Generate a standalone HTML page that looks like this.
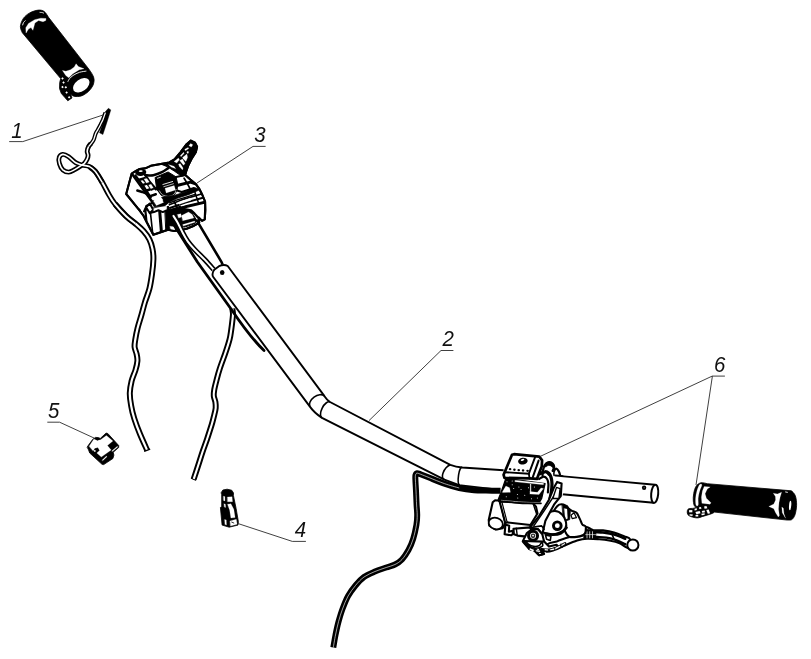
<!DOCTYPE html>
<html lang="en"><head><meta charset="utf-8"><title>Handlebar assembly</title>
<style>
html,body{margin:0;padding:0;background:#fff;}
body{width:811px;height:659px;overflow:hidden;}
svg{display:block;}
.lb{font-family:"Liberation Sans",sans-serif;font-style:italic;font-size:22.7px;fill:#111;}
#labels{filter:grayscale(1);}
</style></head><body>
<svg width="811" height="659" viewBox="0 0 811 659">
<rect width="811" height="659" fill="#fff"/>
<g id="switch">
<path d="M131.7,173.5 L136.0,170.8 L139.7,168.9 L145.3,168.3 L150.8,165.8 L160.7,164.0 L169.3,162.4 L174.9,159.0 L180.4,152.3 L186.6,144.2 L190.9,140.6 L195.0,142.6 L197.1,146.7 L195.8,152.3 L191.5,159.0 L188.4,165.2 L186.0,172.0 L185.3,175.1 L190.3,179.4 L195.5,183.7 L199.5,189.2 L202.0,194.2 L205.1,201.6 L205.3,209.0 L205.3,210.7 L204.8,219.3 L202.0,220.8 L198.9,217.5 L199.2,222.8 L194.0,225.7 L186.6,228.7 L181.7,229.9 L174.2,231.0 L168.1,229.8 L153.3,234.7 L146.5,221.8 L143.4,215.6 L139.7,210.7 L126.2,194.0Z" stroke="#000" stroke-width="2.0" fill="#fff" stroke-linejoin="round"/>
<clipPath id="swclip"><path d="M131.7,173.5 L136.0,170.8 L139.7,168.9 L145.3,168.3 L150.8,165.8 L160.7,164.0 L169.3,162.4 L174.9,159.0 L180.4,152.3 L186.6,144.2 L190.9,140.6 L195.0,142.6 L197.1,146.7 L195.8,152.3 L191.5,159.0 L188.4,165.2 L186.0,172.0 L185.3,175.1 L190.3,179.4 L195.5,183.7 L199.5,189.2 L202.0,194.2 L205.1,201.6 L205.3,209.0 L205.3,210.7 L204.8,219.3 L202.0,220.8 L198.9,217.5 L199.2,222.8 L194.0,225.7 L186.6,228.7 L181.7,229.9 L174.2,231.0 L168.1,229.8 L153.3,234.7 L146.5,221.8 L143.4,215.6 L139.7,210.7 L126.2,194.0Z"/></clipPath>
<g clip-path="url(#swclip)">
<path d="M160.7,164.0 L169.3,162.4 L174.9,159.0 L180.4,152.3 L186.6,144.2 L190.9,140.6 L195.0,142.6 L197.1,146.7 L195.8,152.3 L191.5,159.0 L188.4,165.2 L186.0,172.0 L185.3,175.1 L181.7,176.3 L174.2,171.0 L167.5,166.8Z" stroke="#000" stroke-width="1" fill="#000" stroke-linejoin="round"/>
<path d="M190.6,143.4 L192.8,144.8 L191.4,147.1 L188.9,145.7Z" stroke="#fff" stroke-width="0.2" fill="#fff" />
<path d="M184.7,149.3 L188.1,147.5 L188.8,148.5 L185.4,150.8Z" stroke="#fff" stroke-width="0.2" fill="#fff" />
<path d="M180.2,155.8 L183.6,152.3 L184.2,153.3 L181.1,156.8Z" stroke="#fff" stroke-width="0.2" fill="#fff" />
<path d="M187.2,151.3 L188.8,151.8 L188.1,153.6 L186.8,153.0Z" stroke="#fff" stroke-width="0.2" fill="#fff" />
<path d="M182.5,157.5 L186.9,154.1 L187.6,157.5 L185.9,161.4 L183.1,158.7Z" stroke="#fff" stroke-width="0.2" fill="#fff" />
<path d="M179.7,160.4 L182.5,159.1 L185.0,163.6 L183.6,165.3 L180.8,162.1Z" stroke="#fff" stroke-width="0.2" fill="#fff" />
<path d="M178.5,164.3 L180.2,163.6 L183.1,168.1 L182.5,169.9 L179.4,166.6Z" stroke="#fff" stroke-width="0.2" fill="#fff" />
<path d="M174.0,161.4 L178.5,158.0 L179.4,159.7 L176.8,163.1Z" stroke="#fff" stroke-width="0.2" fill="#fff" />
<path d="M168.4,164.6 L174.0,166.3 L175.8,168.8 L171.2,167.1Z" stroke="#fff" stroke-width="0.2" fill="#fff" />
<ellipse cx="140.72" cy="172.36" rx="5.6" ry="3.6" fill="#000" transform="rotate(-5 140.72 172.36)"/>
<ellipse cx="140.72" cy="171.13" rx="2.0" ry="0.8" fill="#fff" transform="rotate(-5 140.72 171.13)"/>
<path d="M145.3,175.1 C146.6,175.1 150.5,175.7 153.3,175.2 C156.1,174.7 159.4,173.4 161.9,172.2 C164.4,171.0 167.3,168.7 168.3,168.1" stroke="#000" stroke-width="2.5" fill="none" stroke-linecap="round" stroke-linejoin="round"/>
<path d="M131.7,173.5 L152.7,202.6" stroke="#000" stroke-width="2.5" fill="none" stroke-linecap="round" stroke-linejoin="round"/>
<path d="M135.4,175.4 L144.7,188.0 L150.8,197.3" stroke="#000" stroke-width="2.12" fill="none" stroke-linecap="round" stroke-linejoin="round"/>
<path d="M145.3,175.1 L149.6,181.9 L155.8,189.2" stroke="#000" stroke-width="2.6" fill="none" stroke-linecap="round" stroke-linejoin="round"/>
<path d="M138.5,180.0 L144.7,178.2" stroke="#000" stroke-width="2.5" fill="none" stroke-linecap="round" stroke-linejoin="round"/>
<path d="M141.9,185.3 L147.4,183.3" stroke="#000" stroke-width="2.5" fill="none" stroke-linecap="round" stroke-linejoin="round"/>
<path d="M146.1,190.7 L151.8,188.8" stroke="#000" stroke-width="2.5" fill="none" stroke-linecap="round" stroke-linejoin="round"/>
<path d="M149.6,196.4 L155.8,194.2" stroke="#000" stroke-width="2.5" fill="none" stroke-linecap="round" stroke-linejoin="round"/>
<path d="M142.2,179.4 L146.5,178.2 L150.8,184.3 L154.5,189.2 L151.4,190.5 L146.5,184.3Z" stroke="#000" stroke-width="0.5" fill="#000" stroke-linejoin="round"/>
<path d="M144.0,178.9 L146.9,178.4 L149.3,182.1 L146.4,183.1Z" stroke="#fff" stroke-width="0.2" fill="#fff" stroke-linejoin="round"/>
<path d="M148.6,184.9 L151.1,184.3 L153.3,187.8 L150.8,188.8Z" stroke="#fff" stroke-width="0.2" fill="#fff" stroke-linejoin="round"/>
<path d="M137.3,190.5 L142.2,192.0 L146.5,193.7" stroke="#000" stroke-width="2.4" fill="none" stroke-linecap="round" stroke-linejoin="round"/>
<path d="M138.5,209.0 L140.0,210.5" stroke="#000" stroke-width="2.0" fill="none" stroke-linecap="round" stroke-linejoin="round"/>
<path d="M155.1,177.5 L168.1,172.0 L176.1,176.9 L177.7,184.3 L177.0,190.5 L174.2,195.2 L168.1,197.4 L161.3,195.4 L156.7,189.2Z" stroke="#000" stroke-width="1" fill="#000" stroke-linejoin="round"/>
<path d="M165.0,188.3 L174.2,185.6 L175.5,190.0 L166.2,192.9Z" stroke="#fff" stroke-width="0.2" fill="#fff" stroke-linejoin="round"/>
<path d="M162.5,184.6 L173.0,181.4" stroke="#fff" stroke-width="0.9" fill="none" stroke-linecap="butt" stroke-linejoin="round"/>
<path d="M163.4,186.8 L173.8,183.6" stroke="#fff" stroke-width="0.7" fill="none" stroke-linecap="butt" stroke-linejoin="round"/>
<path d="M157.0,178.4 L160.7,177.2" stroke="#fff" stroke-width="0.8" fill="none" stroke-linecap="butt" stroke-linejoin="round"/>
<path d="M159.2,190.5 C159.8,191.2 161.0,193.8 162.5,194.8 C164.1,195.8 166.8,196.5 168.7,196.4 C170.7,196.3 173.0,195.4 174.2,194.2 C175.5,193.0 176.1,190.1 176.5,189.2" stroke="#fff" stroke-width="0.7" fill="none" stroke-linecap="butt" stroke-linejoin="round"/>
<path d="M176.1,176.9 L185.3,175.1" stroke="#000" stroke-width="2.0" fill="none" stroke-linecap="round" stroke-linejoin="round"/>
<path d="M177.9,185.3 L190.5,182.1 L195.5,183.7" stroke="#000" stroke-width="3.0" fill="none" stroke-linecap="round" stroke-linejoin="round"/>
<path d="M177.0,190.5 L181.7,192.0 L194.0,188.0" stroke="#000" stroke-width="2.0" fill="none" stroke-linecap="round" stroke-linejoin="round"/>
<path d="M184.1,178.2 L187.6,184.1 L190.3,189.2" stroke="#000" stroke-width="1.75" fill="none" stroke-linecap="round" stroke-linejoin="round"/>
<path d="M151.4,201.6 L161.9,197.3 L174.2,195.4 L184.1,192.3 L195.2,187.8 L200.2,189.5 L189.1,194.4 L177.9,198.1 L169.3,202.2 L163.2,207.1 L153.9,206.5Z" stroke="#000" stroke-width="0.8" fill="#000" stroke-linejoin="round"/>
<path d="M153.5,199.6 L160.7,196.7 L163.2,200.3 L156.0,203.6Z" stroke="#fff" stroke-width="0.2" fill="#fff" stroke-linejoin="round"/>
<path d="M169.3,204.8 L184.1,199.1 L203.8,193.2" stroke="#000" stroke-width="1.62" fill="none" stroke-linecap="round" stroke-linejoin="round"/>
<path d="M169.9,208.0 L185.3,202.6 L204.8,197.3" stroke="#000" stroke-width="2.0" fill="none" stroke-linecap="round" stroke-linejoin="round"/>
<path d="M170.6,211.2 L186.6,205.9 L205.1,201.6" stroke="#000" stroke-width="2.0" fill="none" stroke-linecap="round" stroke-linejoin="round"/>
<path d="M194.0,189.2 L196.4,196.7 L198.9,204.1" stroke="#000" stroke-width="1.5" fill="none" stroke-linecap="round" stroke-linejoin="round"/>
<path d="M174.2,201.6 L177.9,209.0 L179.2,213.9" stroke="#000" stroke-width="1.75" fill="none" stroke-linecap="round" stroke-linejoin="round"/>
<path d="M152.7,202.6 L146.5,205.9 L144.0,211.4" stroke="#000" stroke-width="2.0" fill="none" stroke-linecap="round" stroke-linejoin="round"/>
<path d="M146.5,205.9 L150.8,209.0 L168.1,207.1" stroke="#000" stroke-width="2.0" fill="none" stroke-linecap="round" stroke-linejoin="round"/>
<path d="M145.3,209.7 L150.8,209.2 L168.1,207.0 L169.3,229.2 L168.1,229.8 L153.3,234.7 L146.5,221.8Z" stroke="#000" stroke-width="2.2" fill="#fff" stroke-linejoin="round"/>
<path d="M159.7,211.3 L161.4,231.7" stroke="#000" stroke-width="3.0" fill="none" stroke-linecap="round" stroke-linejoin="round"/>
<path d="M167.1,209.5 L169.1,229.2" stroke="#000" stroke-width="4.0" fill="none" stroke-linecap="round" stroke-linejoin="round"/>
<path d="M150.2,210.7 L152.7,233.5" stroke="#000" stroke-width="1.62" fill="none" stroke-linecap="round" stroke-linejoin="round"/>
<path d="M165.2,210.2 L179.9,207.6 L190.3,210.2 L196.3,219.7 L195.0,223.6 L184.7,227.1 L178.2,226.6 L177.3,231.8 L170.4,232.7 L166.1,230.9Z" stroke="#000" stroke-width="1" fill="#000" stroke-linejoin="round" stroke-linecap="round"/>
<path d="M181.6,215.6 L188.5,211.9 L192.2,214.5 L193.9,218.0 L182.7,220.7Z" stroke="#fff" stroke-width="0.2" fill="#fff" stroke-linejoin="round" stroke-linecap="round"/>
<path d="M182.7,224.6 L194.6,221.1 L195.0,222.3 L183.3,226.1Z" stroke="#fff" stroke-width="0.2" fill="#fff" stroke-linejoin="round" stroke-linecap="round"/>
<path d="M177.3,214.5 L180.8,213.7 L181.6,217.1 L178.6,218.0Z" stroke="#fff" stroke-width="0.2" fill="#fff" stroke-linejoin="round" stroke-linecap="round"/>
<path d="M180.3,208.0 L188.5,206.3 L205.4,202.4 L205.4,205.0 L204.8,219.7 L201.5,221.1 L194.6,213.7 L191.1,210.4 L185.9,209.5Z" stroke="#000" stroke-width="2.3" fill="#fff" stroke-linejoin="round" stroke-linecap="round"/>
<path d="M146.1,207.2 L149.8,203.5 L153.2,209.8 L149.8,213.2Z" stroke="#000" stroke-width="2.0" fill="#fff" stroke-linejoin="round" stroke-linecap="round"/>
<path d="M153.6,208.6 L158.7,207.3 L166.8,206.1 L166.7,209.8 L162.8,211.7 L158.4,209.9 L153.9,211.7Z" stroke="#fff" stroke-width="0.2" fill="#fff" stroke-linejoin="round" stroke-linecap="round"/>
<path d="M153.5,200.9 L160.5,197.2 L163.6,202.4 L156.4,205.5Z" stroke="#fff" stroke-width="0.2" fill="#fff" stroke-linejoin="round" stroke-linecap="round"/>
<path d="M150.7,212.8 L153.9,212.1 L158.4,210.3 L162.8,212.1 L167.0,210.2" stroke="#000" stroke-width="2.0" fill="none" stroke-linejoin="round"/>
<path d="M169.9,226.2 L174.8,226.8 L174.9,230.5 L171.0,231.4Z" stroke="#fff" stroke-width="0.2" fill="#fff" stroke-linejoin="round" stroke-linecap="round"/>
<path d="M177.9,202.4 L190.5,198.0 L191.2,200.2 L179.4,204.3Z" stroke="#fff" stroke-width="0.2" fill="#fff" stroke-linejoin="round" stroke-linecap="round"/>
<path d="M169.0,203.1 L176.4,200.2 L195.0,194.3" stroke="#000" stroke-width="1.4" fill="none" />
<path d="M169.8,210.5 L176.4,207.6 L180.9,206.1" stroke="#000" stroke-width="1.2" fill="none" />
<path d="M169.4,212.8 L176.4,209.8 L180.9,208.3" stroke="#000" stroke-width="1.2" fill="none" />
</g>
<path d="M131.7,173.5 L136.0,170.8 L139.7,168.9 L145.3,168.3 L150.8,165.8 L160.7,164.0 L169.3,162.4 L174.9,159.0 L180.4,152.3 L186.6,144.2 L190.9,140.6 L195.0,142.6 L197.1,146.7 L195.8,152.3 L191.5,159.0 L188.4,165.2 L186.0,172.0 L185.3,175.1 L190.3,179.4 L195.5,183.7 L199.5,189.2 L202.0,194.2 L205.1,201.6 L205.3,209.0 L205.3,210.7 L204.8,219.3 L202.0,220.8 L198.9,217.5 L199.2,222.8 L194.0,225.7 L186.6,228.7 L181.7,229.9 L174.2,231.0 L168.1,229.8 L153.3,234.7 L146.5,221.8 L143.4,215.6 L139.7,210.7 L126.2,194.0Z" stroke="#000" stroke-width="2.0" fill="none" stroke-linejoin="round"/>
</g>
<g id="cables">
<path d="M108.4,108.3 L110.8,109.9 L106.8,122.7 L102.9,134.5 L99.5,132.8 L102.3,124.7 L103.9,117.8 L103.5,113.8Z" stroke="#000" stroke-width="0.4" fill="#000" stroke-linejoin="round"/>
<path d="M115.1,204.1 C116.9,206.1 122.8,212.9 126.2,216.2 C129.6,219.5 132.7,221.2 135.6,223.7 C138.5,226.2 141.2,228.4 143.5,231.0 C145.8,233.6 147.9,236.4 149.4,239.4 C150.9,242.4 151.8,245.7 152.5,249.0 C153.2,252.3 153.5,255.0 153.4,259.2 C153.3,263.4 152.7,269.1 152.0,274.0 C151.3,278.9 150.6,284.1 149.4,288.8 C148.2,293.5 146.3,297.7 145.0,302.0 C143.7,306.3 142.8,310.1 141.6,314.4 C140.4,318.7 138.7,323.7 137.6,328.0 C136.5,332.3 135.7,336.8 135.2,340.0 C134.7,343.2 134.4,344.7 134.6,347.0 C134.8,349.3 136.1,351.7 136.6,354.0 C137.1,356.3 137.6,358.3 137.4,361.0 C137.2,363.7 136.5,366.7 135.5,370.0 C134.5,373.3 132.5,377.2 131.6,381.0 C130.7,384.8 129.9,388.8 129.8,393.0 C129.7,397.2 130.4,401.7 131.2,406.0 C131.9,410.3 132.8,413.9 134.3,418.6 C135.8,423.3 137.8,428.7 140.0,434.0 C142.2,439.3 146.0,447.6 147.2,450.3" stroke="#000" stroke-width="6.0" fill="none" stroke-linecap="butt" stroke-linejoin="round"/><path d="M115.1,204.1 C116.9,206.1 122.8,212.9 126.2,216.2 C129.6,219.5 132.7,221.2 135.6,223.7 C138.5,226.2 141.2,228.4 143.5,231.0 C145.8,233.6 147.9,236.4 149.4,239.4 C150.9,242.4 151.8,245.7 152.5,249.0 C153.2,252.3 153.5,255.0 153.4,259.2 C153.3,263.4 152.7,269.1 152.0,274.0 C151.3,278.9 150.6,284.1 149.4,288.8 C148.2,293.5 146.3,297.7 145.0,302.0 C143.7,306.3 142.8,310.1 141.6,314.4 C140.4,318.7 138.7,323.7 137.6,328.0 C136.5,332.3 135.7,336.8 135.2,340.0 C134.7,343.2 134.4,344.7 134.6,347.0 C134.8,349.3 136.1,351.7 136.6,354.0 C137.1,356.3 137.6,358.3 137.4,361.0 C137.2,363.7 136.5,366.7 135.5,370.0 C134.5,373.3 132.5,377.2 131.6,381.0 C130.7,384.8 129.9,388.8 129.8,393.0 C129.7,397.2 130.4,401.7 131.2,406.0 C131.9,410.3 132.8,413.9 134.3,418.6 C135.8,423.3 137.8,428.7 140.0,434.0 C142.2,439.3 146.0,447.6 147.2,450.3" stroke="#fff" stroke-width="2.2" fill="none" stroke-linecap="butt" stroke-linejoin="round"/>
<path d="M89.5,166.6 C90.4,167.5 93.2,168.9 95.4,171.6 C97.5,174.2 100.0,178.5 102.3,182.4 C104.6,186.4 107.1,191.6 109.2,195.2 C111.3,198.9 112.3,200.6 115.1,204.1 C117.9,207.6 122.8,212.9 126.2,216.2 C129.6,219.5 134.0,222.4 135.6,223.7" stroke="#000" stroke-width="5.5" fill="none" stroke-linecap="butt" stroke-linejoin="round"/><path d="M89.5,166.6 C90.4,167.5 93.2,168.9 95.4,171.6 C97.5,174.2 100.0,178.5 102.3,182.4 C104.6,186.4 107.1,191.6 109.2,195.2 C111.3,198.9 112.3,200.6 115.1,204.1 C117.9,207.6 122.8,212.9 126.2,216.2 C129.6,219.5 134.0,222.4 135.6,223.7" stroke="#fff" stroke-width="2.0" fill="none" stroke-linecap="butt" stroke-linejoin="round"/>
<path d="M91.0,143.4 C90.6,143.9 89.3,145.0 88.7,146.4 C88.0,147.7 87.3,149.8 87.2,151.3 C87.1,152.8 88.1,153.9 88.1,155.2 C88.1,156.6 87.7,157.9 87.1,159.2 C86.5,160.5 85.5,162.0 84.7,162.9 C84.0,163.8 84.2,163.5 82.5,164.7 C80.9,165.8 77.0,168.4 74.7,169.6 C72.4,170.8 70.7,172.0 68.7,172.1 C66.8,172.1 64.4,171.2 62.8,169.8 C61.3,168.4 60.1,165.7 59.5,163.7 C58.8,161.7 58.5,159.3 59.1,157.8 C59.6,156.2 61.2,154.6 62.8,154.4 C64.4,154.2 66.6,155.4 68.7,156.8 C70.9,158.2 73.3,161.3 75.7,162.7 C78.0,164.1 80.2,164.5 82.5,165.2 C84.9,165.8 87.3,165.6 89.5,166.6 C91.6,167.7 93.2,168.9 95.4,171.6 C97.5,174.2 101.1,180.6 102.3,182.4" stroke="#000" stroke-width="4.9" fill="none" stroke-linecap="butt" stroke-linejoin="round"/><path d="M91.0,143.4 C90.6,143.9 89.3,145.0 88.7,146.4 C88.0,147.7 87.3,149.8 87.2,151.3 C87.1,152.8 88.1,153.9 88.1,155.2 C88.1,156.6 87.7,157.9 87.1,159.2 C86.5,160.5 85.5,162.0 84.7,162.9 C84.0,163.8 84.2,163.5 82.5,164.7 C80.9,165.8 77.0,168.4 74.7,169.6 C72.4,170.8 70.7,172.0 68.7,172.1 C66.8,172.1 64.4,171.2 62.8,169.8 C61.3,168.4 60.1,165.7 59.5,163.7 C58.8,161.7 58.5,159.3 59.1,157.8 C59.6,156.2 61.2,154.6 62.8,154.4 C64.4,154.2 66.6,155.4 68.7,156.8 C70.9,158.2 73.3,161.3 75.7,162.7 C78.0,164.1 80.2,164.5 82.5,165.2 C84.9,165.8 87.3,165.6 89.5,166.6 C91.6,167.7 93.2,168.9 95.4,171.6 C97.5,174.2 101.1,180.6 102.3,182.4" stroke="#fff" stroke-width="1.6" fill="none" stroke-linecap="butt" stroke-linejoin="round"/>
<path d="M105.4,112.6 C105.0,113.8 103.7,117.7 102.9,119.7 C102.0,121.7 101.3,123.0 100.5,124.7 C99.7,126.3 98.7,128.1 97.9,129.6 C97.1,131.1 96.4,131.9 95.7,133.5 C95.0,135.2 94.5,137.8 93.8,139.5 C93.1,141.1 92.1,142.2 91.2,143.4 C90.4,144.6 89.1,145.9 88.7,146.4" stroke="#000" stroke-width="4.0" fill="none" stroke-linecap="butt" stroke-linejoin="round"/><path d="M105.4,112.6 C105.0,113.8 103.7,117.7 102.9,119.7 C102.0,121.7 101.3,123.0 100.5,124.7 C99.7,126.3 98.7,128.1 97.9,129.6 C97.1,131.1 96.4,131.9 95.7,133.5 C95.0,135.2 94.5,137.8 93.8,139.5 C93.1,141.1 92.1,142.2 91.2,143.4 C90.4,144.6 89.1,145.9 88.7,146.4" stroke="#fff" stroke-width="1.3" fill="none" stroke-linecap="butt" stroke-linejoin="round"/>
<path d="M144.2,451.4 L150.2,449.2" stroke="#000" stroke-width="1.4" fill="none" />
<path d="M232.3,308.5 C232.4,309.4 233.0,312.1 233.0,314.0 C233.0,315.9 232.8,316.9 232.5,319.6 C232.2,322.3 231.7,326.7 231.2,330.0 C230.7,333.3 230.6,335.3 229.6,339.3 C228.6,343.3 226.7,349.1 225.0,354.0 C223.3,358.9 221.1,364.4 219.7,368.9 C218.2,373.4 217.2,377.5 216.3,381.0 C215.4,384.5 214.6,387.5 214.2,390.0 C213.8,392.5 213.6,394.0 213.8,396.0 C214.0,398.0 215.1,400.0 215.4,402.0 C215.7,404.0 215.9,405.7 215.7,408.0 C215.5,410.3 214.7,413.2 214.0,416.0 C213.3,418.8 212.8,421.2 211.6,425.0 C210.4,428.8 208.6,434.5 207.1,439.0 C205.6,443.5 204.0,447.5 202.5,452.0 C201.0,456.5 199.5,461.4 198.0,466.0 C196.5,470.6 194.3,477.2 193.6,479.4" stroke="#000" stroke-width="6.0" fill="none" stroke-linecap="butt" stroke-linejoin="round"/><path d="M232.3,308.5 C232.4,309.4 233.0,312.1 233.0,314.0 C233.0,315.9 232.8,316.9 232.5,319.6 C232.2,322.3 231.7,326.7 231.2,330.0 C230.7,333.3 230.6,335.3 229.6,339.3 C228.6,343.3 226.7,349.1 225.0,354.0 C223.3,358.9 221.1,364.4 219.7,368.9 C218.2,373.4 217.2,377.5 216.3,381.0 C215.4,384.5 214.6,387.5 214.2,390.0 C213.8,392.5 213.6,394.0 213.8,396.0 C214.0,398.0 215.1,400.0 215.4,402.0 C215.7,404.0 215.9,405.7 215.7,408.0 C215.5,410.3 214.7,413.2 214.0,416.0 C213.3,418.8 212.8,421.2 211.6,425.0 C210.4,428.8 208.6,434.5 207.1,439.0 C205.6,443.5 204.0,447.5 202.5,452.0 C201.0,456.5 199.5,461.4 198.0,466.0 C196.5,470.6 194.3,477.2 193.6,479.4" stroke="#fff" stroke-width="2.1" fill="none" stroke-linecap="butt" stroke-linejoin="round"/>
<path d="M191.2,478.4 L196.0,480.4" stroke="#000" stroke-width="1" fill="none" />
<path d="M173.0,215.2 C173.8,216.5 176.1,219.8 177.7,222.7 C179.3,225.6 181.0,229.6 182.7,232.7 C184.3,235.8 185.7,238.5 187.7,241.3 C189.7,244.1 191.7,246.4 194.6,249.5 C197.5,252.6 201.8,256.6 205.0,259.9 C208.1,263.2 212.1,267.9 213.5,269.5" stroke="#000" stroke-width="5.2" fill="none" stroke-linecap="butt" stroke-linejoin="round"/><path d="M173.0,215.2 C173.8,216.5 176.1,219.8 177.7,222.7 C179.3,225.6 181.0,229.6 182.7,232.7 C184.3,235.8 185.7,238.5 187.7,241.3 C189.7,244.1 191.7,246.4 194.6,249.5 C197.5,252.6 201.8,256.6 205.0,259.9 C208.1,263.2 212.1,267.9 213.5,269.5" stroke="#fff" stroke-width="2.0" fill="none" stroke-linecap="butt" stroke-linejoin="round"/>
</g>
<g id="bar">
<path d="M212.9,276.5 L309.9,406.6 Q314,412.5 322,417.9 L444.4,479.6 L459.2,485.1 L500,490 M503.6,470.2 L462.1,467.5 Q456,466.8 450.3,464.8 L330,402 Q327,400 324.3,395.9 L227.7,266 Q224,263.8 219,266.2 L214.6,269.4 Q211.6,272.6 212.9,276.5" stroke="#000" stroke-width="1.9" fill="none" stroke-linejoin="round"/>
<path d="M324.3,395.9 A9 5.6 -36.6 0 0 309.9,406.6" stroke="#000" stroke-width="1.6" fill="none" />
<path d="M330,402 A8.9 4.3 -63.3 0 0 322,417.9" stroke="#000" stroke-width="1.6" fill="none" />
<path d="M450.3,464.8 A9 4.8 -53 0 0 444.4,479.6" stroke="#000" stroke-width="1.6" fill="none" />
<path d="M462.1,467.5 A8.9 2.4 -84 0 0 459.6,485.3" stroke="#000" stroke-width="1.6" fill="none" />
<ellipse cx="222.2" cy="272.4" rx="2.3" ry="2.5" fill="#000"/>
<path d="M555.5,475.6 L610,480.6 L655,484.7 M562.3,494.3 L610,498.8 L653.8,502.8" stroke="#000" stroke-width="1.9" fill="none" />
<ellipse cx="654.7" cy="493.8" rx="3.5" ry="9.2" fill="#fff" stroke="#000" stroke-width="2" transform="rotate(5 654.7 493.8)"/>
<ellipse cx="644.1" cy="487.8" rx="2.2" ry="2.3" fill="#000"/><ellipse cx="644.2" cy="487.7" rx="0.7" ry="0.6" fill="#555"/>
<path d="M196.3,219.7 L221.4,261.8 L222.6,264.5" stroke="#000" stroke-width="2.6" fill="none" />
<path d="M171.2,220.6 L197.4,262 L231.6,309.7 Q250,337 264,350.5" stroke="#000" stroke-width="2.8" fill="none" stroke-linejoin="round" stroke-linecap="round"/>
</g>
<g id="brake">
<path d="M541.4,475.0 L543.7,467.4 L546.3,463.3 L549.4,462.1 L552.8,463.7 L554.3,467.4 L556.2,468.6 L558.8,471.2 L560.2,475.4 L561.9,482.6 L562.8,494.0 L560.4,498.6 L549.0,500.0 L541.4,495.5 L539.1,481.9Z" stroke="#fff" stroke-width="0.5" fill="#fff" stroke-linejoin="round" stroke-linecap="round"/>
<path d="M542.5,475.0 C542.7,473.8 543.0,469.5 543.7,467.6 C544.3,465.7 545.4,464.3 546.3,463.4 C547.3,462.4 548.3,462.1 549.4,462.1 C550.4,462.2 552.0,463.0 552.8,463.8 C553.6,464.6 554.1,465.7 554.1,466.8 C554.1,468.0 553.0,470.2 552.8,470.9" stroke="#000" stroke-width="2.3" fill="none" stroke-linecap="round" stroke-linejoin="round"/>
<path d="M544.6,465.2 C544.7,464.5 545.6,463.6 546.3,463.1 C547.1,462.5 548.0,461.8 549.1,461.8 C550.2,461.9 551.9,462.5 552.8,463.4 C553.6,464.2 554.4,466.4 554.4,467.1 C554.4,467.9 553.3,467.8 552.8,467.6 C552.2,467.4 551.7,466.3 550.9,465.9 C550.2,465.6 549.1,465.3 548.2,465.5 C547.3,465.7 546.2,467.1 545.6,467.0 C545.0,466.9 544.5,465.8 544.6,465.2Z" stroke="#000" stroke-width="0.6" fill="#000" stroke-linejoin="round" stroke-linecap="round"/>
<path d="M555.5,475.5 L562.6,476.1" stroke="#000" stroke-width="1.9" fill="none" stroke-linecap="round" stroke-linejoin="round"/>
<path d="M552.8,470.9 C553.3,470.5 555.2,468.6 556.2,468.7 C557.2,468.8 558.2,470.3 558.8,471.4 C559.5,472.5 560.0,474.8 560.2,475.5" stroke="#000" stroke-width="2.2" fill="none" stroke-linecap="round" stroke-linejoin="round"/>
<path d="M555.0,469.7 C554.8,470.2 554.1,471.8 553.9,472.8 C553.7,473.7 554.1,475.0 554.1,475.4" stroke="#000" stroke-width="1.6" fill="none" stroke-linecap="round" stroke-linejoin="round"/>
<path d="M539.9,473.7 C540.7,473.3 543.7,471.6 545.2,471.6 C546.7,471.5 548.0,472.5 549.0,473.5 C550.0,474.5 550.6,475.7 551.1,477.5 C551.6,479.2 552.0,481.6 552.0,484.1 C552.0,486.6 551.6,490.1 551.2,492.5 C550.9,494.9 550.1,497.5 549.9,498.6" stroke="#000" stroke-width="3.2" fill="none" stroke-linecap="round" stroke-linejoin="round"/>
<path d="M539.1,479.0 C539.9,478.6 542.3,476.7 543.7,476.7 C545.0,476.7 546.3,477.7 547.1,479.0 C547.9,480.2 548.2,481.9 548.4,484.1 C548.5,486.4 548.0,491.1 547.9,492.5" stroke="#000" stroke-width="2.2" fill="none" stroke-linecap="round" stroke-linejoin="round"/>
<path d="M543.3,472.8 C543.8,472.7 545.4,472.1 546.3,472.5 C547.2,472.8 548.2,474.6 548.6,475.0" stroke="#000" stroke-width="1.5" fill="none" stroke-linecap="round" stroke-linejoin="round"/>
<path d="M492.7,502.3 L495.1,500.2 L500.1,500.7 L505.3,523.1 L502.7,528.2 L495.8,529.5 L489.3,525.6 L488.7,520.0Z" stroke="#000" stroke-width="2.1" fill="#fff" stroke-linejoin="round" stroke-linecap="round"/>
<ellipse cx="495.76" cy="523.49" rx="7.2" ry="5.6" fill="#fff" stroke="#000" stroke-width="1.8" transform="rotate(18 495.76 523.49)"/>
<path d="M499.6,501.4 L533.0,503.3 L536.0,506.6 L537.5,513.5 L530.4,525.0 L507.0,522.4 L505.3,523.1Z" stroke="#000" stroke-width="2.1" fill="#fff" stroke-linejoin="round" stroke-linecap="round"/>
<path d="M502.0,502.3 L507.2,522.4" stroke="#000" stroke-width="1.2" fill="none" stroke-linecap="round" stroke-linejoin="round"/>
<path d="M533.1,503.6 L536.6,514.0" stroke="#000" stroke-width="1.4" fill="none" stroke-linecap="round" stroke-linejoin="round"/>
<path d="M505.9,478.3 L545.1,483.5 L541.8,498.1 L539.7,502.0 L519.6,501.7 L498.1,499.7 L501.1,492.2Z" stroke="#000" stroke-width="1.2" fill="#000" stroke-linejoin="round" stroke-linecap="round"/>
<path d="M515.1,480.2 L543.6,483.3 L543.4,484.8 L515.0,481.8Z" stroke="#fff" stroke-width="0.2" fill="#fff" stroke-linejoin="round" stroke-linecap="round"/>
<path d="M502.6,491.6 L505.9,486.0 L509.6,487.8 L510.4,492.3 L502.6,492.6Z" stroke="#fff" stroke-width="0.2" fill="#fff" stroke-linejoin="round" stroke-linecap="round"/>
<path d="M530.0,491.6 L537.4,492.3 L541.0,487.9 L543.4,488.6 L539.0,494.6 L530.0,494.1Z" stroke="#fff" stroke-width="0.2" fill="#fff" stroke-linejoin="round" stroke-linecap="round"/>
<path d="M530.2,483.9 L531.1,484.1 L531.1,491.9 L530.2,491.8Z" stroke="#fff" stroke-width="0.1" fill="#fff" stroke-linejoin="round" stroke-linecap="round"/>
<circle cx="507.02" cy="481.84" r="0.5" fill="#fff"/>
<circle cx="512.19" cy="481.1" r="0.5" fill="#fff"/>
<circle cx="513.67" cy="488.5" r="0.5" fill="#fff"/>
<circle cx="518.85" cy="487.02" r="0.5" fill="#fff"/>
<circle cx="521.07" cy="489.61" r="0.5" fill="#fff"/>
<circle cx="517.37" cy="494.41" r="0.5" fill="#fff"/>
<circle cx="506.28" cy="496.63" r="0.5" fill="#fff"/>
<circle cx="517.74" cy="498.11" r="0.5" fill="#fff"/>
<circle cx="531.43" cy="498.85" r="0.5" fill="#fff"/>
<circle cx="537.35" cy="498.11" r="0.5" fill="#fff"/>
<circle cx="528.47" cy="487.76" r="0.5" fill="#fff"/>
<circle cx="534.39" cy="487.02" r="0.5" fill="#fff"/>
<circle cx="524.77" cy="495.15" r="0.5" fill="#fff"/>
<circle cx="512.19" cy="484.8" r="0.5" fill="#fff"/>
<path d="M501.1,500.3 C504.4,500.6 514.5,501.5 521.1,502.0 C527.6,502.4 537.1,502.8 540.3,503.0" stroke="#fff" stroke-width="0.6" fill="none" stroke-linecap="butt" stroke-linejoin="round"/>
<path d="M498.9,501.1 C502.3,501.4 512.6,502.7 519.6,503.1 C526.6,503.5 537.5,503.4 541.0,503.4" stroke="#000" stroke-width="1.6" fill="none" stroke-linecap="round" stroke-linejoin="round"/>
<path d="M503.6,474.8 L512.0,454.7 L514.0,454.2 L539.3,456.6 L542.1,460.4 L541.7,466.6 L536.9,478.9 L529.5,478.3 L504.5,477.9Z" stroke="#000" stroke-width="2.7" fill="#fff" stroke-linejoin="round" stroke-linecap="round"/>
<path d="M504.7,472.2 L528.9,473.7 L535.0,457.3" stroke="#000" stroke-width="1.9" fill="none" stroke-linecap="round" stroke-linejoin="round"/>
<path d="M528.9,473.7 L529.5,478.6" stroke="#000" stroke-width="1.8" fill="none" stroke-linecap="round" stroke-linejoin="round"/>
<path d="M538.6,460.6 L532.8,477.2" stroke="#000" stroke-width="2" fill="none" stroke-linecap="round" stroke-linejoin="round"/>
<ellipse cx="522.88" cy="461.09" rx="4.8" ry="3.4" fill="#000" stroke="none" stroke-width="0" transform="rotate(-8 522.88 461.09)"/>
<ellipse cx="522.54" cy="459.96" rx="1.9" ry="0.9" fill="#fff" stroke="none" stroke-width="0" transform="rotate(-20 522.54 459.96)"/>
<ellipse cx="510.08" cy="469.22" rx="1.3" ry="1.15" fill="#000" stroke="none" stroke-width="0" transform="rotate(0 510.08 469.22)"/>
<ellipse cx="514.41" cy="469.74" rx="1.3" ry="1.15" fill="#000" stroke="none" stroke-width="0" transform="rotate(0 514.41 469.74)"/>
<ellipse cx="518.73" cy="470.17" rx="1.3" ry="1.15" fill="#000" stroke="none" stroke-width="0" transform="rotate(0 518.73 470.17)"/>
<ellipse cx="523.06" cy="470.52" rx="1.3" ry="1.15" fill="#000" stroke="none" stroke-width="0" transform="rotate(0 523.06 470.52)"/>
<ellipse cx="527.56" cy="470.78" rx="1.3" ry="1.15" fill="#000" stroke="none" stroke-width="0" transform="rotate(0 527.56 470.78)"/>
<path d="M505.4,524.6 L504.6,534.3 L511.3,535.3 L513.2,533.6 L512.4,530.8 L508.9,531.7 L509.2,525.8Z" stroke="#000" stroke-width="2.1" fill="#fff" stroke-linejoin="round" stroke-linecap="round"/>
<path d="M513.5,528.7 L530.4,527.4 L531.2,530.0 L528.6,536.9 L517.4,535.6 L513.9,534.3Z" stroke="#000" stroke-width="2.1" fill="#fff" stroke-linejoin="round" stroke-linecap="round"/>
<path d="M516.3,528.2 L517.2,535.3" stroke="#000" stroke-width="1.4" fill="none" stroke-linecap="round" stroke-linejoin="round"/>
</g>
<g id="brake_build_lever">
<path d="M547.5,544.2 C549.4,542.5 553.7,542.4 557.4,541.2 C561.1,539.9 565.4,537.9 569.7,536.9 C574.0,535.8 580.6,536.7 583.3,535.0 C586.0,533.4 584.1,527.8 585.8,527.0 C587.4,526.2 590.3,529.5 593.2,530.1 C596.0,530.6 599.5,530.0 603.0,530.4 C606.5,530.9 610.6,531.6 614.1,532.5 C617.6,533.5 621.3,535.1 624.0,536.2 C626.7,537.4 629.3,537.4 630.1,539.3 C631.0,541.3 630.8,547.3 628.9,548.0 C627.1,548.6 622.3,544.3 619.0,543.0 C615.8,541.8 612.5,541.2 609.2,540.5 C605.9,539.9 603.0,539.6 599.3,539.3 C595.6,539.0 590.7,538.5 587.0,538.7 C583.3,538.9 580.8,539.4 577.1,540.5 C573.4,541.7 568.5,543.9 564.8,545.5 C561.1,547.0 558.0,548.8 554.9,549.8 C551.8,550.8 547.5,552.6 546.3,551.6 C545.1,550.7 545.7,546.0 547.5,544.2Z" stroke="#000" stroke-width="2.1" fill="#fff" stroke-linejoin="round" stroke-linecap="round"/>
<path d="M583.3,530.7 C584.9,530.9 589.9,531.6 593.2,531.9 C596.4,532.2 599.5,532.1 603.0,532.5 C606.5,533.0 610.4,533.6 614.1,534.6 C617.8,535.7 623.4,538.0 625.2,538.7" stroke="#000" stroke-width="2.6" fill="none" stroke-linecap="round" stroke-linejoin="round"/>
<path d="M585.1,537.5 C587.5,537.4 594.9,536.9 599.3,537.1 C603.7,537.3 607.3,537.5 611.6,538.7 C616.0,539.9 623.0,543.3 625.2,544.2" stroke="#000" stroke-width="2.4" fill="none" stroke-linecap="round" stroke-linejoin="round"/>
<path d="M583.9,528.2 L590.7,530.1 L595.9,531.3 L595.9,538.7 L583.9,538.1Z" stroke="#000" stroke-width="0.6" fill="#000" stroke-linejoin="round" stroke-linecap="round"/>
<path d="M587.0,531.3 L587.0,538.3" stroke="#fff" stroke-width="0.7" fill="none" stroke-linecap="butt" stroke-linejoin="round"/>
<path d="M589.7,531.3 L589.7,538.3" stroke="#fff" stroke-width="0.7" fill="none" stroke-linecap="butt" stroke-linejoin="round"/>
<path d="M592.5,531.3 L592.5,538.3" stroke="#fff" stroke-width="0.7" fill="none" stroke-linecap="butt" stroke-linejoin="round"/>
<path d="M584.5,534.6 L595.9,534.6" stroke="#fff" stroke-width="0.6" fill="none" stroke-linecap="butt" stroke-linejoin="round"/>
<path d="M611.6,533.2 L614.1,539.3" stroke="#000" stroke-width="1.6" fill="none" stroke-linecap="round" stroke-linejoin="round"/>
<path d="M561.1,544.2 L562.3,547.0" stroke="#000" stroke-width="1.4" fill="none" stroke-linecap="round" stroke-linejoin="round"/>
<path d="M553.7,547.0 L554.9,549.7" stroke="#000" stroke-width="1.4" fill="none" stroke-linecap="round" stroke-linejoin="round"/>
<ellipse cx="632.86" cy="544.99" rx="5.6" ry="5.6" fill="#fff" stroke="#000" stroke-width="2" transform="rotate(0 632.86 544.99)"/>
<path d="M552.5,515.9 C551.6,513.4 555.6,507.9 557.4,506.0 C559.2,504.1 561.7,504.1 563.6,504.6 C565.4,505.0 567.1,507.4 568.5,508.5 C569.9,509.6 570.9,510.2 572.2,511.0 C573.5,511.7 575.3,511.6 576.5,512.8 C577.7,514.0 578.6,516.4 579.6,518.4 C580.6,520.3 581.3,523.1 582.3,524.5 C583.3,526.0 585.6,525.2 585.8,527.0 C585.9,528.7 586.0,533.4 583.3,535.0 C580.6,536.7 572.8,537.6 569.7,536.9 C566.6,536.1 566.0,533.4 564.8,530.7 C563.6,528.0 564.4,523.3 562.3,520.8 C560.3,518.4 553.3,518.4 552.5,515.9Z" stroke="#000" stroke-width="2.1" fill="#fff" stroke-linejoin="round" stroke-linecap="round"/>
<path d="M562.3,504.8 L567.3,505.4 L570.4,510.4 L569.7,519.6 L566.0,520.8 L563.0,514.7Z" stroke="#000" stroke-width="0.8" fill="#000" stroke-linejoin="round" stroke-linecap="round"/>
<path d="M564.2,508.5 L567.0,509.1 L567.5,518.4 L565.4,519.4Z" stroke="#fff" stroke-width="0.2" fill="#fff" stroke-linejoin="round" stroke-linecap="round"/>
<path d="M571.0,515.3 L574.0,512.8 L576.5,517.7 L572.2,518.6Z" stroke="#000" stroke-width="1.2" fill="#fff" stroke-linejoin="round" stroke-linecap="round"/>
<path d="M547.5,514.7 C549.6,511.4 552.5,511.0 554.9,511.0 C557.4,511.0 560.5,512.8 562.3,514.7 C564.2,516.5 565.5,519.8 566.0,522.1 C566.5,524.3 566.4,526.5 565.4,528.2 C564.4,530.0 562.4,531.5 559.9,532.5 C557.3,533.6 552.9,534.7 550.0,534.4 C547.1,534.1 543.0,534.0 542.6,530.7 C542.2,527.4 545.5,517.9 547.5,514.7Z" stroke="#000" stroke-width="2.1" fill="#fff" stroke-linejoin="round" stroke-linecap="round"/>
<path d="M545.1,533.2 C546.3,533.4 549.8,534.6 552.5,534.6 C555.1,534.6 558.7,534.3 561.1,533.2 C563.5,532.0 565.7,528.5 566.6,527.6" stroke="#000" stroke-width="2.6" fill="none" stroke-linecap="round" stroke-linejoin="round"/>
<ellipse cx="557.31" cy="525.7" rx="5.3" ry="5.3" fill="#000" stroke="none" stroke-width="0" transform="rotate(0 557.31 525.7)"/>
<ellipse cx="557.31" cy="525.7" rx="2.4" ry="2.4" fill="#fff" stroke="none" stroke-width="0" transform="rotate(0 557.31 525.7)"/>
<path d="M529.9,527.5 L539.2,515.8 L549.0,499.7 L554.0,487.4 L557.1,481.9 L561.6,483.4 L560.8,496.0 L554.0,504.7 L545.4,520.7 L542.3,534.2 L538.0,529.3Z" stroke="#000" stroke-width="2.1" fill="#fff" stroke-linejoin="round" stroke-linecap="round"/>
<path d="M533.8,525.9 L544.1,510.8 L555.5,493.6" stroke="#000" stroke-width="1.5" fill="none" stroke-linecap="round" stroke-linejoin="round"/>
<path d="M530.5,527.5 L541.6,525.9 L544.1,529.3" stroke="#000" stroke-width="1.6" fill="none" stroke-linecap="round" stroke-linejoin="round"/>
<path d="M552.8,498.5 L556.5,487.4 L560.1,488.6 L558.9,498.5Z" stroke="#000" stroke-width="1.4" fill="#fff" stroke-linejoin="round" stroke-linecap="round"/>
<path d="M523.2,540.4 L526.9,533.0 L531.8,529.3 L538.0,529.3 L542.3,534.2 L544.1,541.6 L541.6,549.0 L544.1,554.0 L539.2,555.2 L534.2,550.3 L529.3,549.0Z" stroke="#000" stroke-width="2.1" fill="#fff" stroke-linejoin="round" stroke-linecap="round"/>
<path d="M523.2,541.0 L529.3,549.0 L534.2,550.5 L539.2,555.2 L543.5,554.0 L541.6,549.0 L549.0,549.7 L558.9,547.2 L556.5,544.7 L549.0,546.6 L544.1,541.6Z" stroke="#000" stroke-width="2.1" fill="#fff" stroke-linejoin="round" stroke-linecap="round"/>
<path d="M534.2,547.2 L538.0,554.0" stroke="#000" stroke-width="2.4" fill="none" stroke-linecap="round" stroke-linejoin="round"/>
<path d="M539.2,547.6 L542.3,553.7" stroke="#000" stroke-width="2.0" fill="none" stroke-linecap="round" stroke-linejoin="round"/>
<path d="M545.4,534.9 L550.9,536.1 L550.3,540.4 L546.6,539.2Z" stroke="#000" stroke-width="1.6" fill="#fff" stroke-linejoin="round" stroke-linecap="round"/>
<path d="M523.1,541.4 C523.8,542.2 525.7,544.7 527.4,546.1 C529.2,547.5 531.6,548.9 533.7,549.8 C535.7,550.8 537.8,551.5 539.9,551.6 C542.0,551.7 544.0,550.7 546.1,550.3 C548.2,550.0 550.3,550.2 552.3,549.6 C554.4,549.0 556.4,547.9 558.5,546.9 C560.7,545.8 563.9,544.0 565.0,543.4" stroke="#000" stroke-width="2.8" fill="none" stroke-linecap="round" stroke-linejoin="round"/>
<path d="M530.2,548.3 L534.0,550.1 L533.0,551.4 L529.6,549.5Z" stroke="#fff" stroke-width="0.2" fill="#fff" stroke-linejoin="round" stroke-linecap="round"/>
<path d="M536.1,550.0 L539.9,550.7 L539.9,552.0 L536.5,551.5Z" stroke="#fff" stroke-width="0.2" fill="#fff" stroke-linejoin="round" stroke-linecap="round"/>
<path d="M544.9,549.0 L548.0,549.5 L547.9,550.6 L545.0,550.3Z" stroke="#fff" stroke-width="0.2" fill="#fff" stroke-linejoin="round" stroke-linecap="round"/>
<path d="M550.1,549.2 L553.9,548.6 L554.2,549.7 L550.5,550.3Z" stroke="#fff" stroke-width="0.2" fill="#fff" stroke-linejoin="round" stroke-linecap="round"/>
<path d="M555.1,548.1 L559.8,545.7 L560.3,546.7 L555.6,549.2Z" stroke="#fff" stroke-width="0.2" fill="#fff" stroke-linejoin="round" stroke-linecap="round"/>
<path d="M561.4,544.9 L565.0,542.9 L565.0,544.0 L561.8,545.9Z" stroke="#fff" stroke-width="0.2" fill="#fff" stroke-linejoin="round" stroke-linecap="round"/>
<ellipse cx="533.04" cy="535.84" rx="6.0" ry="6.0" fill="#000" stroke="none" stroke-width="0" transform="rotate(0 533.04 535.84)"/>
<ellipse cx="533.04" cy="535.84" rx="3.0" ry="3.0" fill="#fff" stroke="none" stroke-width="0" transform="rotate(0 533.04 535.84)"/>
<ellipse cx="533.04" cy="535.84" rx="2.3" ry="2.3" fill="#333" stroke="none" stroke-width="0" transform="rotate(0 533.04 535.84)"/>
<ellipse cx="533.04" cy="535.53" rx="0.9" ry="0.9" fill="#fff" stroke="none" stroke-width="0" transform="rotate(0 533.04 535.53)"/>
<path d="M525.9,541.1 C525.7,540.8 527.1,543.4 528.4,544.2 C529.7,545.1 531.8,546.2 533.7,546.4 C535.5,546.6 537.9,546.2 539.3,545.5 C540.6,544.8 541.2,542.3 541.8,542.4 C542.3,542.5 543.4,545.1 542.4,546.1 C541.3,547.1 537.7,548.2 535.5,548.3 C533.4,548.3 530.9,547.6 529.3,546.4 C527.7,545.2 526.0,541.5 525.9,541.1Z" stroke="#000" stroke-width="1.6" fill="#fff" stroke-linejoin="round" stroke-linecap="round"/>
</g>
<g id="cables_build_hose">
<path d="M500.6,490.8 C498.2,490.8 490.4,490.7 486.0,490.6 C481.6,490.5 478.5,490.6 474.0,490.2 C469.5,489.8 464.1,489.1 459.2,488.0 C454.3,486.9 449.3,485.3 444.4,483.6 C439.5,481.9 433.6,479.4 429.6,477.8 C425.6,476.2 422.6,475.0 420.5,474.2 C418.4,473.4 417.8,473.1 417.0,473.2 C416.2,473.3 415.8,473.9 415.5,475.0 C415.2,476.1 415.3,477.3 415.4,480.0 C415.5,482.7 415.8,486.8 416.0,491.0 C416.2,495.2 416.4,501.0 416.6,505.0 C416.8,509.0 417.2,511.7 417.2,515.0 C417.2,518.3 417.1,521.0 416.4,525.0 C415.7,529.0 414.5,534.7 413.2,538.9 C411.9,543.1 410.4,546.6 408.5,550.0 C406.6,553.4 404.2,557.1 402.0,559.5 C399.8,561.9 397.6,563.2 395.0,564.5 C392.4,565.8 389.5,566.3 386.2,567.5 C382.9,568.7 378.7,569.9 375.0,571.5 C371.3,573.1 367.2,574.7 364.0,577.0 C360.8,579.3 358.1,582.3 355.5,585.5 C352.9,588.7 350.3,592.1 348.1,596.0 C345.9,599.9 344.1,604.8 342.5,609.0 C340.9,613.2 339.8,617.1 338.6,621.4 C337.4,625.7 336.4,630.6 335.5,635.0 C334.6,639.4 333.7,645.4 333.3,647.5" stroke="#000" stroke-width="6" fill="none" stroke-linejoin="round"/>
<path d="M459.2,488.0 C456.7,487.3 449.3,485.3 444.4,483.6 C439.5,481.9 433.6,479.4 429.6,477.8 C425.6,476.2 422.6,475.0 420.5,474.2 C418.4,473.4 417.8,473.1 417.0,473.2 C416.2,473.3 415.8,473.9 415.5,475.0 C415.2,476.1 415.3,477.3 415.4,480.0 C415.5,482.7 415.8,486.8 416.0,491.0 C416.2,495.2 416.4,501.0 416.6,505.0 C416.8,509.0 417.2,511.7 417.2,515.0 C417.2,518.3 417.1,521.0 416.4,525.0 C415.7,529.0 414.5,534.7 413.2,538.9 C411.9,543.1 410.4,546.6 408.5,550.0 C406.6,553.4 404.2,557.1 402.0,559.5 C399.8,561.9 397.6,563.2 395.0,564.5 C392.4,565.8 389.5,566.3 386.2,567.5 C382.9,568.7 378.7,569.9 375.0,571.5 C371.3,573.1 367.2,574.7 364.0,577.0 C360.8,579.3 358.1,582.3 355.5,585.5 C352.9,588.7 350.3,592.1 348.1,596.0 C345.9,599.9 344.1,604.8 342.5,609.0 C340.9,613.2 339.8,617.1 338.6,621.4 C337.4,625.7 336.4,630.6 335.5,635.0 C334.6,639.4 333.7,645.4 333.3,647.5" stroke="#fff" stroke-width="0.8" fill="none" stroke-linejoin="round" opacity="0.8"/>
</g>
<g id="grip1">
<path d="M22.3,32.7 C22.0,31.7 20.2,28.9 20.4,26.5 C20.5,24.1 21.8,20.8 23.3,18.5 C24.9,16.2 27.2,14.3 29.7,12.9 C32.2,11.6 35.9,10.3 38.4,10.1 C40.8,9.9 42.6,10.4 44.3,11.6 C46.0,12.8 47.8,16.3 48.5,17.3 L89.3,69.7 C89.8,70.6 91.7,73.0 92.5,74.7 C93.3,76.3 94.0,77.8 94.1,79.6 C94.1,81.4 93.8,83.5 92.9,85.5 C91.9,87.5 90.4,89.7 88.5,91.4 C86.6,93.2 83.8,95.0 81.4,95.9 C79.1,96.7 76.3,96.6 74.5,96.4 C72.8,96.1 71.4,94.9 70.8,94.6 L71.4,96.2 L72.0,97.9 L67.8,100.8 L64.7,97.3 L61.3,93.4 L59.5,88.5 L59.7,82.5 L60.7,78.6Z" stroke="#000" stroke-width="0.8" fill="#000" stroke-linejoin="round"/>
<ellipse cx="81.23" cy="85.31" rx="5.9" ry="9.3" fill="#fff" transform="rotate(54 81.23 85.31)"/>
<path d="M67.8,81.8 C68.1,81.2 68.7,79.7 69.6,78.6 C70.5,77.6 71.4,76.5 73.0,75.5 C74.7,74.4 77.2,73.0 79.5,72.3 C81.7,71.6 85.2,71.3 86.4,71.1" stroke="#fff" stroke-width="0.9" fill="none" />
<path d="M62.5,70.5 L65.8,71.3 L70.6,69.7 L74.3,67.0 L76.1,63.8 L78.3,66.6 L84.0,68.7 L79.3,69.7 L72.8,73.7 L68.8,77.8 L65.8,75.5Z" stroke="#fff" stroke-width="0.3" fill="#fff" />
<rect x="61.6" y="77.5" width="1.8" height="1.8" fill="#fff" transform="rotate(50 62.49 78.41)"/>
<rect x="62.6" y="81.6" width="1.8" height="1.8" fill="#fff" transform="rotate(50 63.48 82.55)"/>
<rect x="61.6" y="86.2" width="1.8" height="1.8" fill="#fff" transform="rotate(50 62.49 87.09)"/>
<rect x="64.9" y="86.4" width="1.8" height="1.8" fill="#fff" transform="rotate(50 65.84 87.29)"/>
<rect x="65.7" y="91.7" width="1.8" height="1.8" fill="#fff" transform="rotate(50 66.63 92.61)"/>
<rect x="68.2" y="96.4" width="1.8" height="1.8" fill="#fff" transform="rotate(50 69.1 97.35)"/>
<path d="M26.0,33.0 L25.8,27.7 L28.5,23.4 L34.7,19.7 L40.8,18.2 L46.0,18.5 L45.8,20.5 L43.0,21.7 L38.6,20.5 L34.9,22.9 L32.9,30.3 L31.0,27.6 L28.5,29.1Z" stroke="#fff" stroke-width="0.3" fill="#fff" />
<path d="M22.6,25.3 C22.7,24.8 23.1,23.2 23.6,22.4 C24.1,21.6 25.2,20.8 25.5,20.5" stroke="#fff" stroke-width="0.9" fill="none" />
<path d="M39.6,12.3 C40.0,12.4 41.6,12.4 42.3,12.6 C43.1,12.7 43.7,13.2 44.0,13.3" stroke="#fff" stroke-width="0.9" fill="none" />
</g>
<g id="grip6">
<path d="M714.6,512.1 C713.8,511.3 711.6,508.4 710.0,507.3 C708.5,506.3 707.5,505.8 705.5,505.7 C703.5,505.5 700.0,506.3 698.2,506.4 C696.4,506.5 695.6,507.3 694.8,506.4 C693.9,505.5 693.5,503.1 693.3,501.0 C693.1,498.8 693.2,496.1 693.7,493.7 C694.1,491.2 694.8,488.2 696.0,486.4 C697.2,484.6 699.1,483.2 700.9,482.8 C702.8,482.3 706.2,483.5 707.3,483.7 L791.5,490.8 C792.1,491.6 794.5,493.3 795.3,495.7 C796.2,498.1 796.7,502.1 796.6,505.4 C796.5,508.6 795.7,512.7 794.9,515.1 C794.0,517.4 793.0,518.8 791.8,519.6 C790.5,520.4 788.1,520.0 787.4,520.1Z" stroke="#000" stroke-width="0.8" fill="#000" stroke-linejoin="round"/>
<path d="M687.3,511.1 C687.4,510.2 687.7,509.3 688.7,508.8 C689.8,508.3 692.1,508.6 693.7,508.2 C695.2,507.8 696.2,506.9 698.2,506.4 C700.2,506.0 703.5,505.4 705.5,505.5 C707.5,505.7 708.7,506.7 710.0,507.3 C711.4,508.0 713.1,508.6 713.9,509.3 C714.6,510.1 715.1,511.1 714.6,511.9 C714.1,512.6 712.9,513.1 711.0,513.9 C709.0,514.6 705.0,515.8 702.8,516.4 C700.5,517.1 699.3,517.9 697.3,517.9 C695.3,517.9 692.5,517.2 690.9,516.6 C689.4,516.1 688.4,515.5 687.8,514.6 C687.2,513.7 687.1,512.1 687.3,511.1Z" stroke="#000" stroke-width="0.8" fill="#000" />
<path d="M689.1,510.1 L692.3,510.1 L692.3,512.3 L689.1,512.3Z" stroke="#fff" stroke-width="0.1" fill="#fff" />
<path d="M689.6,514.2 L692.8,514.6 L692.3,516.0 L689.6,515.5Z" stroke="#fff" stroke-width="0.1" fill="#fff" />
<path d="M694.6,508.7 L696.8,508.2 L696.8,510.1 L694.6,510.5Z" stroke="#fff" stroke-width="0.1" fill="#fff" />
<path d="M695.5,511.9 L699.6,511.0 L700.5,513.2 L696.4,514.2Z" stroke="#fff" stroke-width="0.1" fill="#fff" />
<path d="M699.1,507.3 L700.9,506.9 L701.4,508.7 L699.3,509.0Z" stroke="#fff" stroke-width="0.1" fill="#fff" />
<path d="M704.1,506.4 L706.4,506.0 L707.3,508.2 L704.6,508.7Z" stroke="#fff" stroke-width="0.1" fill="#fff" />
<path d="M701.9,511.0 L704.6,510.5 L705.0,512.3 L702.3,512.8Z" stroke="#fff" stroke-width="0.1" fill="#fff" />
<path d="M706.4,510.1 L708.7,509.6 L710.0,513.2 L707.8,513.7Z" stroke="#fff" stroke-width="0.1" fill="#fff" />
<path d="M695.5,515.1 L698.2,514.8 L698.2,516.4 L695.7,516.6Z" stroke="#fff" stroke-width="0.1" fill="#fff" />
<path d="M701.4,513.7 L704.6,513.2 L704.6,514.8 L701.7,515.3Z" stroke="#fff" stroke-width="0.1" fill="#fff" />
<path d="M699.7,484.6 C698.8,485.5 697.6,488.7 696.9,490.9 C696.2,493.2 695.7,495.9 695.6,498.2 C695.4,500.6 695.6,504.0 696.0,505.1 C696.5,506.3 697.8,506.3 698.2,505.1 C698.6,504.0 698.0,500.6 698.2,498.2 C698.5,495.9 699.0,493.1 699.7,490.9 C700.3,488.8 701.9,486.2 701.9,485.1 C701.9,484.0 700.5,483.6 699.7,484.6Z" stroke="#fff" stroke-width="0.2" fill="#fff" />
<path d="M704.2,486.4 L710.2,486.9 L707.3,489.1 L705.1,493.7 L706.4,498.2 L711.0,502.8 L710.0,504.2 L701.9,503.3 L701.4,497.3 L702.4,490.9Z" stroke="#fff" stroke-width="0.2" fill="#fff" />
<path d="M773.3,493.2 L777.4,493.9 L781.6,492.2 L780.1,497.3 L779.0,502.8 L778.5,509.1 L779.4,515.5 L778.3,517.0 L775.6,512.8 L773.8,508.7 L768.8,506.4 L773.8,504.1 L775.6,500.1 L775.4,496.4Z" stroke="#fff" stroke-width="0.2" fill="#fff" />
<path d="M781.8,507.1 L782.3,512.8 L785.6,518.2 L784.0,513.7 L783.4,508.2Z" stroke="#fff" stroke-width="0.2" fill="#fff" />
<ellipse cx="790.15" cy="505.51" rx="1.1" ry="4.7" fill="#fff" transform="rotate(5 790.15 505.51)"/>
<path d="M785.2,491.9 L787.8,492.4" stroke="#fff" stroke-width="0.9" fill="none" />
</g>
<g id="small">
<path d="M87.3,446.9 L88.7,444.8 L92.8,439.3 L95.5,437.4 L98.2,437.6 L100.3,438.4 L106.1,433.1 L107.8,433.5 L118.7,445.5 L118.7,447.5 L113.2,452.3 L113.9,455.1 L112.9,458.5 L103.7,464.6 L102.0,464.3 L89.7,453.0 L88.7,450.3Z" stroke="#000" stroke-width="0.8" fill="#000" stroke-linejoin="round" stroke-linecap="round"/>
<path d="M89.1,446.2 L93.9,439.1 L97.2,440.4 L100.6,439.8 L106.4,435.4 L112.9,441.1 L107.4,445.5 L111.2,450.0 L101.3,457.1 L96.8,453.0 L99.6,450.4 L97.9,447.5 L94.8,448.2 L93.2,450.9Z" stroke="#fff" stroke-width="0.2" fill="#fff" stroke-linejoin="round" stroke-linecap="round"/>
<path d="M111.9,450.8 L117.3,446.3 L117.8,447.0 L112.4,451.6Z" stroke="#fff" stroke-width="0.2" fill="#fff" stroke-linejoin="round" stroke-linecap="round"/>
<path d="M102.2,460.0 L106.4,456.1 L107.0,456.8 L102.7,460.8Z" stroke="#fff" stroke-width="0.2" fill="#fff" stroke-linejoin="round" stroke-linecap="round"/>
<circle cx="94.8" cy="450.95" r="0.9" fill="#fff"/>
<path d="M95.5,438.7 C95.8,438.9 97.0,439.8 97.5,439.9 C98.1,439.9 98.7,439.1 98.9,439.0" stroke="#000" stroke-width="0.8" fill="none" stroke-linecap="round" stroke-linejoin="round"/>
<path d="M221.3,492.5 L222.9,490.0 L227.1,489.2 L231.7,490.2 L233.5,492.9 L233.4,495.4 L236.1,508.4 L238.4,521.7 L238.0,525.1 L229.2,527.2 L222.1,525.1 L220.4,507.5 L221.7,506.7 L221.7,495.0Z" stroke="#000" stroke-width="0.8" fill="#000" stroke-linejoin="round" stroke-linecap="round"/>
<path d="M227.4,497.1 L232.1,496.7 L232.5,501.7 L227.5,501.7Z" stroke="#fff" stroke-width="0.2" fill="#fff" stroke-linejoin="round" stroke-linecap="round"/>
<path d="M223.4,496.3 L224.9,496.5 L225.0,500.9 L223.5,500.4Z" stroke="#fff" stroke-width="0.2" fill="#fff" stroke-linejoin="round" stroke-linecap="round"/>
<path d="M227.5,504.2 L230.9,503.8 L233.8,509.2 L235.1,517.6 L230.9,518.0 L229.6,510.1Z" stroke="#fff" stroke-width="0.2" fill="#fff" stroke-linejoin="round" stroke-linecap="round"/>
<path d="M224.0,503.8 L225.4,504.2 L225.7,507.5 L224.4,507.1Z" stroke="#fff" stroke-width="0.2" fill="#fff" stroke-linejoin="round" stroke-linecap="round"/>
<path d="M224.6,519.6 L226.3,519.9 L226.5,525.1 L225.0,524.6Z" stroke="#fff" stroke-width="0.2" fill="#fff" stroke-linejoin="round" stroke-linecap="round"/>
<path d="M230.0,520.9 L236.3,519.2 L237.1,524.2 L230.5,525.9Z" stroke="#fff" stroke-width="0.2" fill="#fff" stroke-linejoin="round" stroke-linecap="round"/>
<path d="M231.7,522.1 L233.8,523.0" stroke="#000" stroke-width="0.8" fill="none" stroke-linecap="round" stroke-linejoin="round"/>
</g>
<g id="labels">
<text transform="translate(11.3 137.6) scale(0.9 1)" class="lb">1</text>
<path d="M9.2,141.6 L22.8,141.6 L103.0,115.0" stroke="#2a2a2a" stroke-width="0.9" fill="none" stroke-linejoin="round"/>
<text transform="translate(254.2 142.3) scale(0.9 1)" class="lb">3</text>
<path d="M265.6,146.4 L253.0,146.4 L197.0,183.0" stroke="#2a2a2a" stroke-width="0.9" fill="none" stroke-linejoin="round"/>
<text transform="translate(442.6 346.3) scale(0.9 1)" class="lb">2</text>
<path d="M453.4,350.5 L441.0,350.5 L369.0,420.6" stroke="#2a2a2a" stroke-width="0.9" fill="none" stroke-linejoin="round"/>
<text transform="translate(713.9 372.1) scale(0.9 1)" class="lb">6</text>
<path d="M724.9,376.1 L712.2,376.1 L540.0,456.5" stroke="#2a2a2a" stroke-width="0.9" fill="none" stroke-linejoin="round"/>
<path d="M712.4,376.1 L696.0,485.0" stroke="#2a2a2a" stroke-width="0.9" fill="none" stroke-linejoin="round"/>
<text transform="translate(48.0 418.1) scale(0.9 1)" class="lb">5</text>
<path d="M47.3,422.2 L59.6,422.2 L94.0,438.0" stroke="#2a2a2a" stroke-width="0.9" fill="none" stroke-linejoin="round"/>
<text transform="translate(294.8 537.2) scale(0.9 1)" class="lb">4</text>
<path d="M305.9,541.4 L292.3,541.4 L238.2,523.6" stroke="#2a2a2a" stroke-width="0.9" fill="none" stroke-linejoin="round"/>
</g>
</svg>
</body></html>
